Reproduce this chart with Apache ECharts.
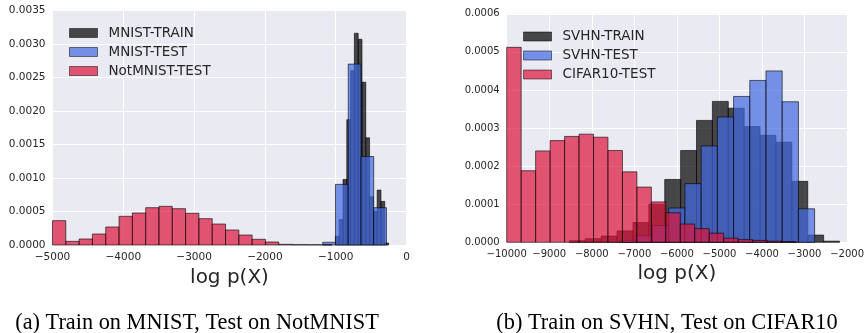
<!DOCTYPE html>
<html>
<head>
<meta charset="utf-8">
<script src="https://cdn.jsdelivr.net/npm/echarts@6/dist/echarts.min.js"></script>
<style>
    html, body { margin: 0; padding: 0; background: #fff; }
    #hist { width: 867px; height: 333px; }
</style>
</head>
<body>
<div id="hist"></div>
<script>
// Histogram data (bin start, bin width, bar heights)
// ------------------------------

// (a) MNIST / NotMNIST
var mnistTrainStart = -1004, mnistTrainWidth = 53.6;
var mnistTrain = [0.00013, 0.00038, 0.00098, 0.00187, 0.0026, 0.00316, 0.00307,
    0.00243, 0.0016, 0.00072, 0.0005, 0.00082, 0.00065, 0.00003];

var mnistTestStart = -1183, mnistTestWidth = 180;
var mnistTest = [0.00004, 0.000905, 0.0027, 0.00132, 0.000557];

var notMnistStart = -5000, notMnistWidth = 188;
var notMnist = [0.000363, 0.000055, 0.00009, 0.000164, 0.000269, 0.000428, 0.000478,
    0.000557, 0.000577, 0.000542, 0.000473, 0.000393, 0.000313, 0.000224, 0.000149,
    0.000085, 0.000045, 0.00001, 0.000005, 0.000004, 0.000003];

// (b) SVHN / CIFAR10
var svhnTrainStart = -8527, svhnTrainWidth = 373.5;
var svhnTrain = [0.0000044, 0.0000096, 0.0000165, 0.00003, 0.000052, 0.0001, 0.000165,
    0.000241, 0.00032, 0.00037, 0.000352, 0.000304, 0.000281, 0.000263, 0.00016,
    0.000019, 0.000003];

var svhnTestStart = -7335, svhnTestWidth = 381;
var svhnTest = [0.000005, 0.0000175, 0.000044, 0.00009, 0.000154, 0.000253, 0.000329,
    0.000383, 0.000425, 0.00045, 0.000369, 0.000088];

var cifarStart = -10000, cifarWidth = 340;
var cifar = [0.000512, 0.000188, 0.00024, 0.000267, 0.000278, 0.000284, 0.000276,
    0.000241, 0.000185, 0.000145, 0.000106, 0.0000775, 0.000048, 0.000036, 0.000024,
    0.000011, 0.000007, 0.000005, 0.000003, 0.000002];

var captions = ['(a) Train on MNIST, Test on NotMNIST', '(b) Train on SVHN, Test on CIFAR10'];


// Setup module
// ------------------------------

var HistogramsLogLikelihood = function() {

    var COLOR_TRAIN = 'rgba(0,0,0,0.7)';
    var COLOR_TEST = 'rgba(65,105,225,0.7)';
    var COLOR_OOD = 'rgba(220,20,60,0.7)';
    var EDGE = 'rgba(0,0,0,0.6)';
    var FONT = 'DejaVu Sans';

    // [lo, hi, height] triples
    var toBins = function(start, width, heights) {
        return heights.map(function(h, i) {
            return [start + i * width, start + (i + 1) * width, h];
        });
    };

    var renderBin = function(params, api) {
        var p0 = api.coord([api.value(0), api.value(2)]);
        var p1 = api.coord([api.value(1), 0]);
        return {
            type: 'rect',
            shape: { x: p0[0], y: p0[1], width: p1[0] - p0[0], height: p1[1] - p0[1] },
            style: { fill: api.visual('color'), stroke: EDGE, lineWidth: 1 }
        };
    };

    var histSeries = function(name, idx, color, bins) {
        return {
            name: name,
            type: 'custom',
            xAxisIndex: idx,
            yAxisIndex: idx,
            renderItem: renderBin,
            itemStyle: { color: color },
            encode: { x: [0, 1], y: 2 },
            data: bins
        };
    };

    var xAxisFor = function(idx, min, max, size) {
        return {
            type: 'value',
            gridIndex: idx,
            min: min,
            max: max,
            interval: 1000,
            name: 'log p(X)',
            nameLocation: 'middle',
            nameGap: 21,
            nameTextStyle: { fontFamily: FONT, fontSize: 20, color: '#262626' },
            axisLine: { show: false },
            axisTick: { show: false },
            axisLabel: {
                interval: 0,
                margin: 7,
                fontFamily: FONT,
                fontSize: size,
                color: '#262626',
                formatter: function(v) { return String(v).replace('-', '\u2212'); }
            },
            splitLine: { show: true, lineStyle: { color: '#ffffff', width: 1 } }
        };
    };

    var yAxisFor = function(idx, max, step, size) {
        return {
            type: 'value',
            gridIndex: idx,
            min: 0,
            max: max,
            interval: step,
            axisLine: { show: false },
            axisTick: { show: false },
            axisLabel: {
                margin: 7,
                fontFamily: FONT,
                fontSize: size,
                color: '#262626',
                formatter: function(v) { return v.toFixed(4); }
            },
            splitLine: { show: true, lineStyle: { color: '#ffffff', width: 1 } }
        };
    };

    var legendFor = function(left, top, names) {
        return {
            orient: 'vertical',
            left: left,
            top: top,
            icon: 'rect',
            itemWidth: 28,
            itemHeight: 9,
            itemGap: 5,
            selectedMode: false,
            data: names,
            itemStyle: { borderColor: 'rgba(0,0,0,0.5)', borderWidth: 1 },
            textStyle: { fontFamily: FONT, fontSize: 13.5, lineHeight: 14, color: '#262626', padding: [0, 0, 0, 6] }
        };
    };

    var caption = function(x, text) {
        return {
            type: 'text',
            x: x,
            y: 323,
            scaleX: 0.93,
            style: { text: text, font: '24px "Liberation Serif"', fill: '#000', textAlign: 'center', textVerticalAlign: 'middle' }
        };
    };

    var _histograms = function() {
        if (typeof echarts == 'undefined') {
            console.warn('Warning - echarts.min.js is not loaded.');
            return;
        }

        var hist_element = document.getElementById('hist');
        if (!hist_element) return;

        var hist = echarts.init(hist_element, null, { renderer: 'canvas' });

        hist.setOption({
            animation: false,
            grid: [
                { left: 52.5, right: 460.5, top: 10.5, bottom: 88, show: true, backgroundColor: '#EAEAF2', borderWidth: 0 },
                { left: 506.7, right: 18.7, top: 13.8, bottom: 90.7, show: true, backgroundColor: '#EAEAF2', borderWidth: 0 }
            ],
            legend: [
                legendFor(64, 21, ['MNIST-TRAIN', 'MNIST-TEST', 'NotMNIST-TEST']),
                legendFor(518, 24.5, ['SVHN-TRAIN', 'SVHN-TEST', 'CIFAR10-TEST'])
            ],
            xAxis: [
                xAxisFor(0, -5000, 0, 10.5),
                xAxisFor(1, -10000, -2000, 10)
            ],
            yAxis: [
                yAxisFor(0, 0.0035, 0.0005, 10.5),
                yAxisFor(1, 0.0006, 0.0001, 10)
            ],
            graphic: [
                caption(197, captions[0]),
                caption(667, captions[1])
            ],
            series: [
                histSeries('MNIST-TRAIN', 0, COLOR_TRAIN, toBins(mnistTrainStart, mnistTrainWidth, mnistTrain)),
                histSeries('MNIST-TEST', 0, COLOR_TEST, toBins(mnistTestStart, mnistTestWidth, mnistTest)),
                histSeries('NotMNIST-TEST', 0, COLOR_OOD, toBins(notMnistStart, notMnistWidth, notMnist)),
                histSeries('SVHN-TRAIN', 1, COLOR_TRAIN, toBins(svhnTrainStart, svhnTrainWidth, svhnTrain)),
                histSeries('SVHN-TEST', 1, COLOR_TEST, toBins(svhnTestStart, svhnTestWidth, svhnTest)),
                histSeries('CIFAR10-TEST', 1, COLOR_OOD, toBins(cifarStart, cifarWidth, cifar))
            ]
        });
    };

    return {
        init: function() {
            _histograms();
        }
    };
}();


// Initialize module
// ------------------------------

document.addEventListener('DOMContentLoaded', function() {
    HistogramsLogLikelihood.init();
});
</script>
</body>
</html>
